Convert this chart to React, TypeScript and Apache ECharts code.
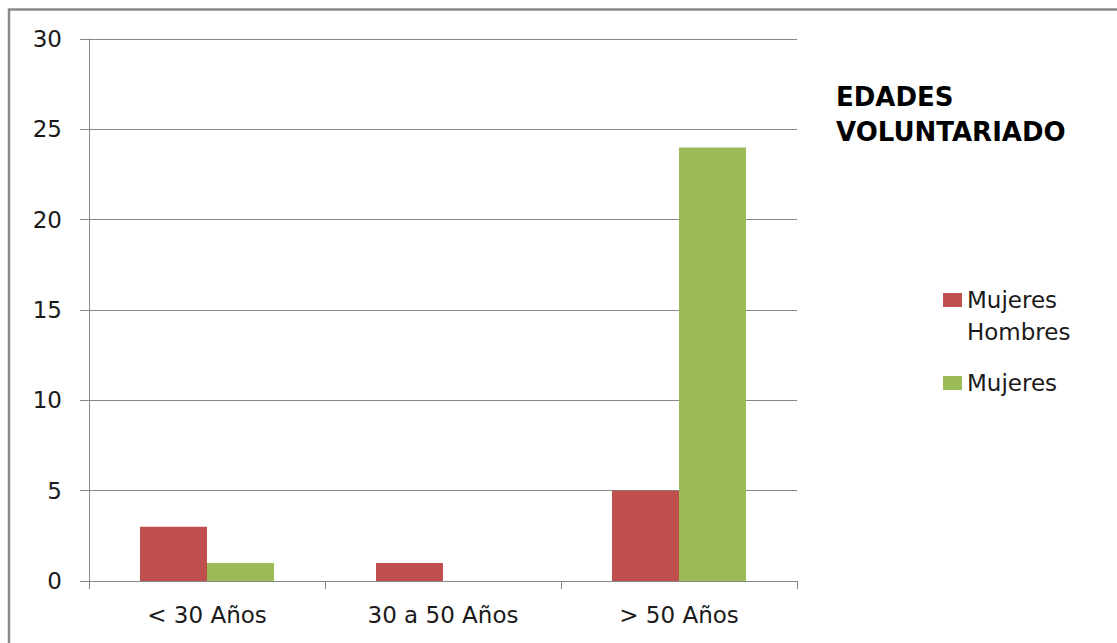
import React, { useEffect, useRef } from "react";
import * as echarts from "echarts";

const categories = ["< 30 Años", "30 a 50 Años", "> 50 Años"];
const seriesNames = ["Mujeres Hombres", "Mujeres"];
const redValues = [3, 1, 5];
const greenValues = [1, 0, 24];
const titleLines = ["EDADES", "VOLUNTARIADO"];

const FONT = "'DejaVu Sans', 'Noto Sans', sans-serif";
const TEXT = "#1a1a1a";
const GRID = "#878787";

export default function App() {
  const ref = useRef<HTMLDivElement>(null);
  useEffect(() => {
    if (!ref.current) return;
    const chart = echarts.init(ref.current, null, { renderer: "svg" });
    chart.setOption({
      animation: false,
      backgroundColor: "#ffffff",
      textStyle: { fontFamily: FONT },
      title: {
        text: titleLines.join("\n"),
        left: 836,
        top: 79,
        padding: 0,
        textStyle: {
          fontFamily: FONT,
          fontWeight: "bold",
          fontSize: 26,
          lineHeight: 35,
          color: "#000",
        },
      },
      legend: [
        {
          data: [seriesNames[0]],
          orient: "vertical",
          left: 943,
          top: 252,
          padding: 0,
          itemWidth: 19,
          itemHeight: 14,
          icon: "rect",
          formatter: (n: string) => "\n" + n.replace(" ", "\n"),
          textStyle: { fontFamily: FONT, fontSize: 23, lineHeight: 32, color: TEXT },
        },
        {
          data: [seriesNames[1]],
          orient: "vertical",
          left: 943,
          top: 367,
          padding: 0,
          itemWidth: 19,
          itemHeight: 14,
          icon: "rect",
          textStyle: { fontFamily: FONT, fontSize: 23, lineHeight: 32, color: TEXT },
        },
      ],
      grid: { left: 89, right: 320, top: 39, bottom: 62, containLabel: false },
      xAxis: {
        type: "category",
        data: categories,
        boundaryGap: true,
        axisLine: { show: true, lineStyle: { color: GRID, width: 1 } },
        axisTick: { show: true, length: 8, lineStyle: { color: GRID } },
        axisLabel: { margin: 22, fontFamily: FONT, fontSize: 23, color: TEXT },
        splitLine: { show: false },
      },
      yAxis: {
        type: "value",
        min: 0,
        max: 30,
        interval: 5,
        axisLine: { show: true, lineStyle: { color: GRID, width: 1 } },
        axisTick: { show: true, length: 9, lineStyle: { color: GRID } },
        axisLabel: { margin: 27, fontFamily: FONT, fontSize: 23, color: TEXT },
        splitLine: { show: true, lineStyle: { color: GRID, width: 1 } },
      },
      series: [
        {
          name: seriesNames[0],
          type: "bar",
          data: redValues,
          itemStyle: { color: "#C0504D" },
          barWidth: 67,
          barGap: "0%",
        },
        {
          name: seriesNames[1],
          type: "bar",
          data: greenValues,
          itemStyle: { color: "#9BBB59" },
          barWidth: 67,
          barGap: "0%",
        },
      ],
      graphic: [
        {
          type: "rect",
          shape: { x: 9, y: 9.5, width: 1300, height: 800 },
          style: { fill: "none", stroke: "#8a8a8a", lineWidth: 2.5 },
          silent: true,
        },
      ],
    });
    return () => chart.dispose();
  }, []);
  return (
    <div
      ref={ref}
      style={{ position: "fixed", left: 0, top: 0, width: 1117, height: 643, background: "#fff" }}
    />
  );
}
